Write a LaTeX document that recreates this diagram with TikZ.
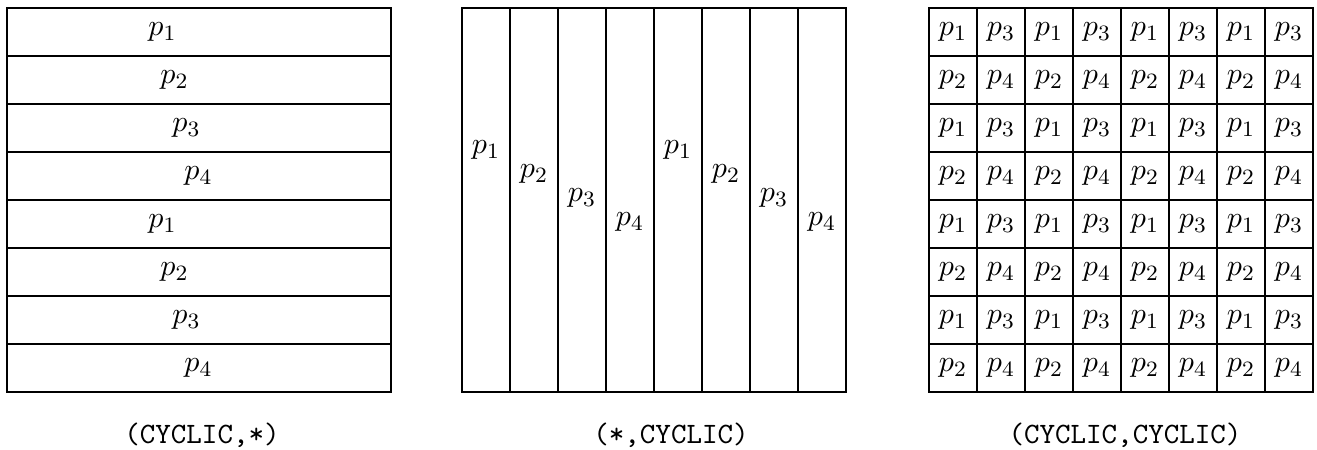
\documentclass[tikz,border=0pt]{standalone}
\usetikzlibrary{positioning}
\begin{document}
\begin{tikzpicture}[
  x=0.365pt, y=-0.365pt,
  font=\fontsize{10.8}{13}\selectfont,
  grid/.style={draw, line width=0.4pt},
  lbl/.style={inner sep=0pt},
  capt/.style={font=\fontsize{10.8}{13}\selectfont\ttfamily, inner sep=0pt}
]
\useasboundingbox (0,0) rectangle (1317,450);
% (CYCLIC,*): rows
\foreach \r in {0,...,7} {
  \pgfmathtruncatemacro\n{mod(\r,4)+1}
  \draw[grid] (7,{8+48*\r}) rectangle ++(384,48);
  \node[lbl] (rowp\r) at ({162.5+12*(\n-1)},{32+48*\r}) {$p_{\n}$};
}
\node[capt] (caprow) at (202,435) {(CYCLIC,*)};
% (*,CYCLIC): columns
\foreach \c in {0,...,7} {
  \pgfmathtruncatemacro\n{mod(\c,4)+1}
  \draw[grid] ({462+48*\c},8) rectangle ++(48,384);
  \node[lbl] (colp\c) at ({486+48*\c},{150+24*(\n-1)}) {$p_{\n}$};
}
\node[capt] (capcol) at (671,435) {(*,CYCLIC)};
% (CYCLIC,CYCLIC): blocks
\foreach \r in {0,...,7} {
  \foreach \c in {0,...,7} {
    \pgfmathtruncatemacro\n{mod(\r,2)+2*mod(\c,2)+1}
    \draw[grid] ({929+48*\c},{8+48*\r}) rectangle ++(48,48);
    \node[lbl] (blkp\r\c) at ({953+48*\c},{32+48*\r}) {$p_{\n}$};
  }
}
\node[capt] (capblk) at (1125,435) {(CYCLIC,CYCLIC)};
\end{tikzpicture}
\end{document}
